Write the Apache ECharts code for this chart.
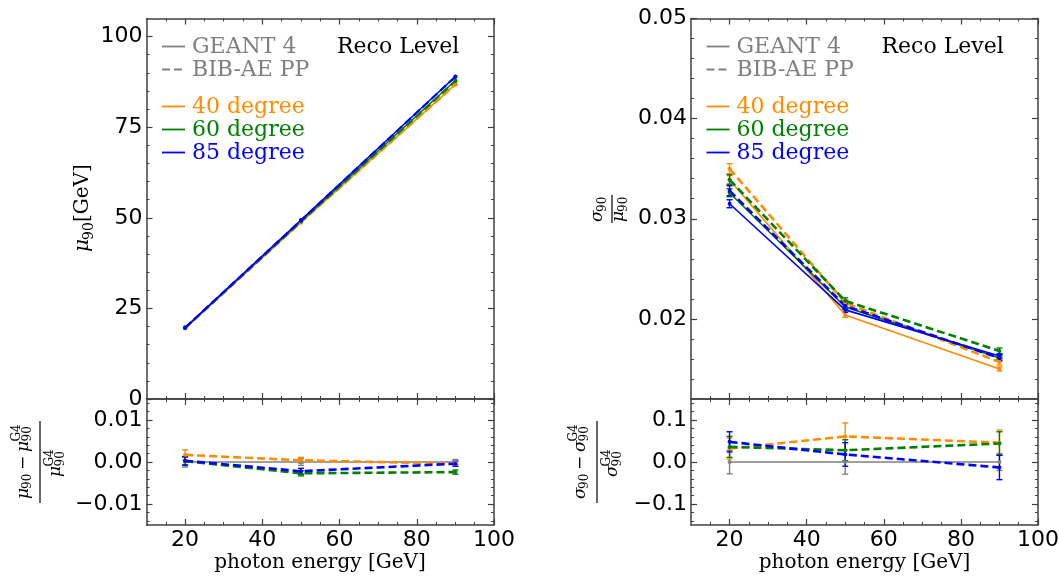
<!DOCTYPE html>
<html><head><meta charset="utf-8">
<script src="https://cdn.jsdelivr.net/npm/echarts@6/dist/echarts.min.js"></script>
<style>html,body{margin:0;padding:0;background:#fff}#c{width:1059px;height:576px}</style>
</head><body><div id="c"></div>
<script>
// ---------------- DATA ----------------
const energies = [20, 50, 90];
const simLabels = ['GEANT 4', 'BIB-AE PP'];
const angleLabels = ['40 degree', '60 degree', '85 degree'];
const tagText = 'Reco Level';
const xTitle = 'photon energy [GeV]';

// top-left: mu90 [GeV]
const muG4_40 = [19.5, 48.7, 86.8];
const muG4_60 = [19.6, 49.1, 87.9];
const muG4_85 = [19.7, 49.4, 89.0];
const muBIB_40 = [19.53, 48.72, 86.77];
const muBIB_60 = [19.60, 48.97, 87.69];
const muBIB_85 = [19.70, 49.29, 88.96];

// bottom-left: (mu - mu_G4)/mu_G4
const muRatioG4 = [0, 0, 0];
const muRatioErrG4 = [0.0012, 0.0008, 0.0006];
const muRatio_40 = [0.0017, 0.0004, -0.0004];
const muRatio_60 = [0.0002, -0.0027, -0.0024];
const muRatio_85 = [0.0003, -0.0022, -0.0004];
const muRatioErr_40 = [0.0012, 0.0007, 0.0006];
const muRatioErr_60 = [0.0010, 0.0006, 0.0005];
const muRatioErr_85 = [0.0010, 0.0007, 0.0006];

// top-right: sigma90/mu90
const resG4_40 = [0.0339, 0.0204, 0.0150];
const resG4_60 = [0.0326, 0.0212, 0.0161];
const resG4_85 = [0.0315, 0.0209, 0.0163];
const resBIB_40 = [0.0350, 0.0216, 0.0157];
const resBIB_60 = [0.0339, 0.0218, 0.0168];
const resBIB_85 = [0.0328, 0.0213, 0.0161];
const resErrG4 = [0.0004, 0.00025, 0.0002];
const resErrBIB = [0.0005, 0.0003, 0.0003];

// bottom-right: (sigma - sigma_G4)/sigma_G4
const resRatioG4 = [0, 0, 0];
const resRatioErrG4 = [0.028, 0.029, 0.020];
const resRatio_40 = [0.032, 0.061, 0.046];
const resRatio_60 = [0.036, 0.028, 0.044];
const resRatio_85 = [0.048, 0.018, -0.013];
const resRatioErr_40 = [0.025, 0.032, 0.030];
const resRatioErr_60 = [0.025, 0.025, 0.028];
const resRatioErr_85 = [0.024, 0.028, 0.029];

// ticks
const xTicks = [20, 40, 60, 80, 100];
const xTickLabels = ['20', '40', '60', '80', '100'];
const xMinorTicks = [15, 25, 30, 35, 45, 50, 55, 65, 70, 75, 85, 90, 95];
const muTicks = [0, 25, 50, 75, 100];
const muTickLabels = ['0', '25', '50', '75', '100'];
const muMinorTicks = [5, 10, 15, 20, 30, 35, 40, 45, 55, 60, 65, 70, 80, 85, 90, 95];
const muRatioTicks = [-0.01, 0, 0.01];
const muRatioTickLabels = ['\u22120.01', '0.00', '0.01'];
const muRatioMinorTicks = [-0.014, -0.012, -0.008, -0.006, -0.004, -0.002, 0.002, 0.004, 0.006, 0.008, 0.012, 0.014];
const resTicks = [0.02, 0.03, 0.04, 0.05];
const resTickLabels = ['0.02', '0.03', '0.04', '0.05'];
const resMinorTicks = [0.014, 0.016, 0.018, 0.022, 0.024, 0.026, 0.028, 0.032, 0.034, 0.036, 0.038, 0.042, 0.044, 0.046, 0.048];
const resRatioTicks = [-0.1, 0, 0.1];
const resRatioTickLabels = ['\u22120.1', '0.0', '0.1'];
const resRatioMinorTicks = [-0.14, -0.12, -0.08, -0.06, -0.04, -0.02, 0.02, 0.04, 0.06, 0.08, 0.12, 0.14];

// ---------------- STYLE ----------------
const C40 = '#ff8c00', C60 = '#008000', C85 = '#0000ff', CG = '#808080', AXC = '#404040';
const SERIF = '"DejaVu Serif"';

function makeAxes(gi, dim, min, max, major, minor, labels, showLabels) {
  const sides = dim === 'x' ? ['bottom', 'top'] : ['left', 'right'];
  const fmt = v => { const i = major.findIndex(t => Math.abs(t - v) < 1e-9); return i < 0 ? '' : labels[i]; };
  const res = [];
  sides.forEach((side, si) => {
    res.push({ type: 'value', gridIndex: gi, position: side, min, max,
      axisLine: { show: true, onZero: false, lineStyle: { color: AXC, width: 1.5 } },
      axisTick: { show: true, inside: true, length: 6, customValues: major, lineStyle: { color: AXC, width: 1.2 } },
      axisLabel: { show: showLabels && si === 0, customValues: major, formatter: fmt, margin: dim === 'x' ? 4 : 4,
        color: '#000', fontFamily: 'DejaVu Sans', fontSize: 22 },
      splitLine: { show: false } });
    res.push({ type: 'value', gridIndex: gi, position: side, min, max,
      axisLine: { show: false, onZero: false },
      axisTick: { show: true, inside: true, length: 3, customValues: minor, lineStyle: { color: AXC, width: 1 } },
      axisLabel: { show: false }, splitLine: { show: false } });
  });
  return res;
}

const xAxes = [].concat(
  makeAxes(0, 'x', 10, 100, xTicks, xMinorTicks, xTickLabels, false),
  makeAxes(1, 'x', 10, 100, xTicks, xMinorTicks, xTickLabels, true),
  makeAxes(2, 'x', 10, 100, xTicks, xMinorTicks, xTickLabels, false),
  makeAxes(3, 'x', 10, 100, xTicks, xMinorTicks, xTickLabels, true));
const yAxes = [].concat(
  makeAxes(0, 'y', 0, 105, muTicks, muMinorTicks, muTickLabels, true),
  makeAxes(1, 'y', -0.015, 0.015, muRatioTicks, muRatioMinorTicks, muRatioTickLabels, true),
  makeAxes(2, 'y', 0.012, 0.05, resTicks, resMinorTicks, resTickLabels, true),
  makeAxes(3, 'y', -0.15, 0.15, resRatioTicks, resRatioMinorTicks, resRatioTickLabels, true));

function lineS(gi, vals, color, dashed, width, z) {
  return { type: 'line', xAxisIndex: gi * 4, yAxisIndex: gi * 4, z: z || 3,
    data: energies.map((e, i) => [e, vals[i]]),
    symbol: 'circle', symbolSize: 4, showSymbol: true, silent: true,
    itemStyle: { color }, lineStyle: { color, width, type: dashed ? [8, 4] : 'solid' } };
}
function errS(gi, vals, errs, color, z) {
  return { type: 'custom', xAxisIndex: gi * 4, yAxisIndex: gi * 4, z: z || 3, silent: true,
    data: energies.map((e, i) => [e, vals[i], errs[i]]), encode: { x: 0, y: 1 },
    renderItem: (p, api) => {
      const x = api.value(0), y = api.value(1), e = api.value(2);
      const a = api.coord([x, y + e]), b = api.coord([x, y - e]);
      const st = { stroke: color, lineWidth: 1.4 };
      return { type: 'group', children: [
        { type: 'line', shape: { x1: a[0], y1: a[1], x2: b[0], y2: b[1] }, style: st },
        { type: 'line', shape: { x1: a[0] - 3, y1: a[1], x2: a[0] + 3, y2: a[1] }, style: st },
        { type: 'line', shape: { x1: b[0] - 3, y1: b[1], x2: b[0] + 3, y2: b[1] }, style: st }] };
    } };
}

const series = [
  // top-left
  lineS(0, muG4_40, C40, false, 1.6), lineS(0, muBIB_40, C40, true, 2.2),
  lineS(0, muG4_60, C60, false, 1.6), lineS(0, muBIB_60, C60, true, 2.2),
  lineS(0, muG4_85, C85, false, 1.6), lineS(0, muBIB_85, C85, true, 2.2),
  // bottom-left
  lineS(1, muRatioG4, CG, false, 1.6), errS(1, muRatioG4, muRatioErrG4, CG),
  lineS(1, muRatio_40, C40, true, 2.6), errS(1, muRatio_40, muRatioErr_40, C40),
  lineS(1, muRatio_60, C60, true, 2.6), errS(1, muRatio_60, muRatioErr_60, C60),
  lineS(1, muRatio_85, C85, true, 2.6), errS(1, muRatio_85, muRatioErr_85, C85),
  // top-right
  lineS(2, resG4_40, C40, false, 1.6), errS(2, resG4_40, resErrG4, C40),
  lineS(2, resBIB_40, C40, true, 2.6), errS(2, resBIB_40, resErrBIB, C40),
  lineS(2, resG4_60, C60, false, 1.6), errS(2, resG4_60, resErrG4, C60),
  lineS(2, resBIB_60, C60, true, 2.6), errS(2, resBIB_60, resErrBIB, C60),
  lineS(2, resG4_85, C85, false, 1.6), errS(2, resG4_85, resErrG4, C85),
  lineS(2, resBIB_85, C85, true, 2.6), errS(2, resBIB_85, resErrBIB, C85),
  // bottom-right
  lineS(3, resRatioG4, CG, false, 1.6), errS(3, resRatioG4, resRatioErrG4, CG),
  lineS(3, resRatio_40, C40, true, 2.6), errS(3, resRatio_40, resRatioErr_40, C40),
  lineS(3, resRatio_60, C60, true, 2.6), errS(3, resRatio_60, resRatioErr_60, C60),
  lineS(3, resRatio_85, C85, true, 2.6), errS(3, resRatio_85, resRatioErr_85, C85)
];

// ---------------- GRAPHIC (legend, titles) ----------------
function gText(t, x, y, color, size, align, italic) {
  const font = (italic ? 'italic ' : '') + size + 'px ' + SERIF;
  return { type: 'text', x, y, silent: true, style: { text: t, fill: color, font,
    textAlign: align || 'left', align: align || 'left', textVerticalAlign: 'middle', verticalAlign: 'middle' } };
}
function gLine(x1, y1, x2, y2, color, w, dash) {
  return { type: 'line', silent: true, shape: { x1, y1, x2, y2 }, style: { stroke: color, lineWidth: w, lineDash: dash || null } };
}
function legendBlock(ox) {
  const els = [
    gLine(ox + 162, 46.5, ox + 185, 46.5, CG, 1.8), gText(simLabels[0], ox + 192, 47, CG, 22),
    gLine(ox + 162, 69.5, ox + 185, 69.5, CG, 1.8, [8, 4]), gText(simLabels[1], ox + 192, 70, CG, 22),
    gText(tagText, ox + 337, 47, '#000', 22)
  ];
  const cols = [C40, C60, C85], ys = [106.5, 129.5, 152.5];
  angleLabels.forEach((l, i) => {
    els.push(gLine(ox + 162, ys[i], ox + 185, ys[i], cols[i], 1.8));
    els.push(gText(l, ox + 192, ys[i] + 0.5, cols[i], 22));
  });
  return els;
}
// math pieces: [text, x, baseline, size, italic]
function piece(t, x, b, size, italic) {
  return gText(t, x, b - 0.35 * size, '#000', size, 'left', italic);
}
function rotGroup(cx, cy, children) {
  return { type: 'group', x: cx, y: cy, rotation: Math.PI / 2, silent: true, children };
}
function ratioLabel(cx, cy, sym) {
  const nb = -10.5, db = 22;
  return rotGroup(cx, cy, [
    gLine(-41, 0, 41, 0, '#000', 1.2),
    piece(sym, -37, nb, 17, true), piece('90', -27, nb + 3, 12),
    piece('\u2212', -8, nb, 17), piece(sym, 10, nb, 17, true),
    piece('G4', 20.5, nb - 8, 12), piece('90', 20.5, nb + 3, 12),
    piece(sym, -15, db, 17, true), piece('G4', -4.5, db - 8, 12), piece('90', -4.5, db + 3, 12)
  ]);
}
const graphics = [].concat(
  legendBlock(0), legendBlock(544.5),
  [gText(xTitle, 320, 563, '#000', 20, 'center'), gText(xTitle, 864.5, 563, '#000', 20, 'center'),
   rotGroup(87, 208, [piece('\u03bc', -44, 3, 20, true), piece('90', -32, 7, 14), piece('[GeV]', -14, 3, 20)]),
   rotGroup(612, 209, [gLine(-14, 0, 14, 0, '#000', 1.2),
     piece('\u03c3', -13, -8, 17, true), piece('90', -3, -5, 12),
     piece('\u03bc', -13, 13, 17, true), piece('90', -3, 16, 12)]),
   ratioLabel(40, 462, '\u03bc'),
   ratioLabel(597, 462, '\u03c3')]);

const chart = echarts.init(document.getElementById('c'), null, { renderer: 'canvas' });
chart.setOption({
  animation: false,
  backgroundColor: '#fff',
  grid: [
    { left: 146.5, top: 18.5, width: 347.5, height: 380.5, outerBoundsMode: 'none' },
    { left: 146.5, top: 399, width: 347.5, height: 126, outerBoundsMode: 'none' },
    { left: 691, top: 18.5, width: 347, height: 380.5, outerBoundsMode: 'none' },
    { left: 691, top: 399, width: 347, height: 126, outerBoundsMode: 'none' }
  ],
  xAxis: xAxes,
  yAxis: yAxes,
  series,
  graphic: { elements: graphics }
});
</script></body></html>
